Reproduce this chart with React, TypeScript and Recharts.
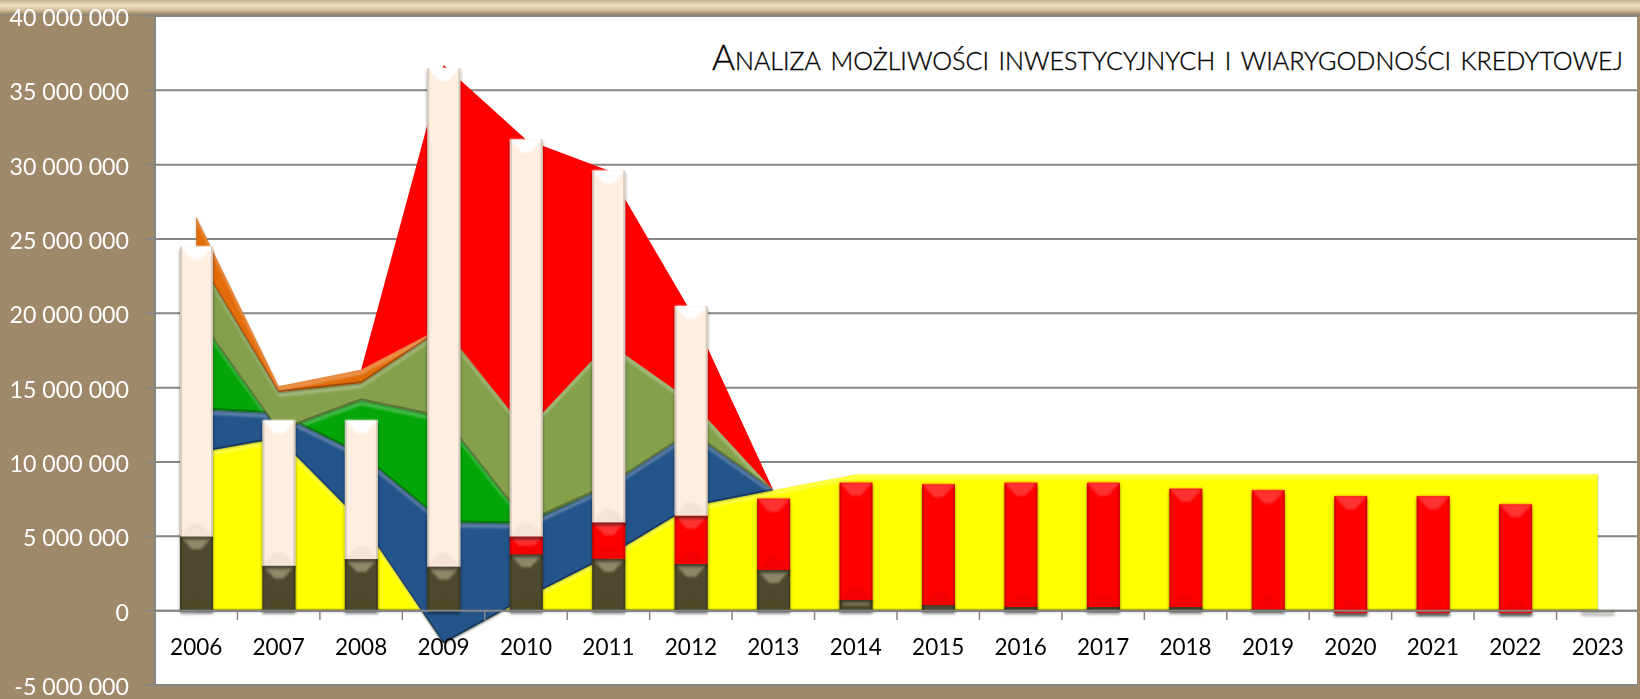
import React from "react";
import { ComposedChart, Area, Bar, XAxis, YAxis, CartesianGrid, ReferenceLine } from "recharts";

const years = ["2006","2007","2008","2009","2010","2011","2012","2013","2014","2015","2016","2017","2018","2019","2020","2021","2022","2023"];

// stacked areas (values, not running totals)
const yellowArea = [10600000,11600000,6000000,-2200000,850000,3660000,7000000,8100000,9160000,9160000,9160000,9160000,9160000,9160000,9160000,9160000,9160000,9160000];
const blueArea = [2970000,1650000,4500000,8150000,5000000,4740000,5000000,0,0,0,0,0,0,0,0,0,0,0];
const greenArea = [6330000,-1150000,3660000,7050000,100000,0,0,0,0,0,0,0,0,0,0,0,0,0];
const oliveArea = [4000000,2600000,1140000,6000000,6150000,9600000,2100000,0,0,0,0,0,0,0,0,0,0,0];
const orangeArea = [2600000,400000,900000,100000,0,0,0,0,0,0,0,0,0,0,0,0,0,0];
const redArea = [0,0,0,17600000,19600000,11600000,6000000,0,0,0,0,0,0,0,0,0,0,0];

// stacked columns
const redBelow = [0,0,0,0,0,0,0,0,0,0,0,0,0,0,-150000,-150000,-150000,0];
const darkBar = [5000000,3030000,3480000,2970000,3800000,3500000,3150000,2740000,720000,380000,250000,250000,250000,100000,0,0,0,-100000];
const redBar = [0,0,0,0,1200000,2450000,3250000,4790000,7880000,8120000,8350000,8350000,7950000,8000000,7850000,7850000,7300000,0];
const creamBar = [19500000,9770000,9320000,33530000,26700000,23650000,14100000,0,0,0,0,0,0,0,0,0,0,0];

const yTicks = [-5000000,0,5000000,10000000,15000000,20000000,25000000,30000000,35000000,40000000];

const chartData = years.map((year, i) => ({
  year,
  yellowArea: yellowArea[i],
  blueArea: blueArea[i],
  greenArea: greenArea[i],
  oliveArea: oliveArea[i],
  orangeArea: orangeArea[i],
  redArea: redArea[i],
  redBelow: redBelow[i],
  darkBar: darkBar[i],
  redBar: redBar[i],
  creamBar: creamBar[i],
}));

const GRID = "#868686";
const BROWN = "#a0886a";
const FONT = "Lato, 'Open Sans', sans-serif";
const ZERO_TO_BOTTOM = 75; // px between the zero line and the bottom of the plot
const BAND = 82.44;

function formatTick(v: number) {
  return String(v).replace(/\B(?=(\d{3})+(?!\d))/g, " ");
}

function BevelBar(props: any) {
  const { x, y, width, height, base, top, edge } = props;
  const h = Math.abs(height);
  if (!h || h < 0.5) return null;
  const y0 = height < 0 ? y + height : y;
  const d = Math.min(13, h / 2);
  const inset = Math.min(12, (d / 13) * 12);
  return (
    <g filter="url(#barShadow)">
      <rect x={x} y={y0} width={width} height={h} fill={base} />
      <g filter="url(#soft)">
        <polygon
          points={`${x},${y0} ${x + width},${y0} ${x + width - inset},${y0 + d} ${x + inset},${y0 + d}`}
          fill={top}
        />
        <polygon
          points={`${x},${y0 + h} ${x + width},${y0 + h} ${x + width - inset},${y0 + h - d} ${x + inset},${y0 + h - d}`}
          fill={edge}
          opacity={0.1}
        />
      </g>
      <rect x={x} y={y0} width={2} height={h} fill={edge} opacity={0.35} />
      <rect x={x + width - 2} y={y0} width={2} height={h} fill={edge} opacity={0.35} />
    </g>
  );
}

function YearTick(props: any) {
  const { x, payload } = props;
  const bottom = 685;
  const tickTop = bottom - ZERO_TO_BOTTOM;
  return (
    <g>
      <line x1={x + BAND / 2} x2={x + BAND / 2} y1={tickTop} y2={tickTop + 10} stroke={GRID} strokeWidth={1.5} />
      <text x={x} y={bottom - 30} textAnchor="middle" fontFamily={FONT} fontSize={22.5} fill="#000">
        {payload.value}
      </text>
    </g>
  );
}

function ValueTick(props: any) {
  const { y, payload } = props;
  return (
    <g>
      <line x1={146} x2={155} y1={y} y2={y} stroke={GRID} strokeWidth={2} />
      <text x={129} y={y + 10} textAnchor="end" fontFamily={FONT} fontSize={23.2} fill="#fff">
        {formatTick(payload.value)}
      </text>
    </g>
  );
}

function Defs() {
  return (
    <svg width={0} height={0} style={{ position: "absolute" }}>
      <defs>
        <filter id="areaBevel" x="-5%" y="-5%" width="110%" height="110%" colorInterpolationFilters="sRGB">
          <feOffset in="SourceAlpha" dy={5} result="down" />
          <feComposite in="SourceAlpha" in2="down" operator="out" result="topEdge" />
          <feGaussianBlur in="topEdge" stdDeviation={1} result="topBlur" />
          <feFlood floodColor="#fff" floodOpacity={0.26} />
          <feComposite in2="topBlur" operator="in" result="light" />
          <feComposite in="light" in2="SourceAlpha" operator="in" result="lightIn" />
          <feOffset in="SourceAlpha" dy={-2} result="up" />
          <feComposite in="SourceAlpha" in2="up" operator="out" result="lowEdge" />
          <feFlood floodColor="#000" floodOpacity={0.3} />
          <feComposite in2="lowEdge" operator="in" result="dark" />
          <feOffset in="SourceAlpha" dy={1} result="sh" />
          <feGaussianBlur in="sh" stdDeviation={1} result="shBlur" />
          <feFlood floodColor="#000" floodOpacity={0.3} />
          <feComposite in2="shBlur" operator="in" result="shadow" />
          <feMerge>
            <feMergeNode in="shadow" />
            <feMergeNode in="SourceGraphic" />
            <feMergeNode in="lightIn" />
            <feMergeNode in="dark" />
          </feMerge>
        </filter>
        <filter id="barShadow" filterUnits="userSpaceOnUse" x={0} y={0} width={1640} height={699}>
          <feDropShadow dx={0} dy={3} stdDeviation={1.5} floodColor="#000" floodOpacity={0.5} />
        </filter>
        <filter id="soft" filterUnits="userSpaceOnUse" x={0} y={0} width={1640} height={699}>
          <feGaussianBlur stdDeviation={0.8} />
        </filter>
      </defs>
    </svg>
  );
}

export default function App() {
  return (
    <div style={{ position: "relative", width: 1640, height: 699, background: BROWN, overflow: "hidden" }}>
      <style>{`body{margin:0}.bevel .recharts-area-area{filter:url(#areaBevel)}`}</style>
      <Defs />
      <div
        style={{
          position: "absolute",
          left: 0,
          top: 0,
          width: 1640,
          height: 16,
          background: "linear-gradient(#c7b394 0%, #f0dcbe 35%, #d8c3a0 60%, #9a8768 90%, #868686 100%)",
        }}
      />
      <div style={{ position: "absolute", left: 0, top: 0 }}>
        <ComposedChart
          width={1640}
          height={699}
          data={chartData}
          margin={{ top: 16, right: 1, bottom: 0, left: 0 }}
          barSize={33}
          barGap={0}
        >
          <CartesianGrid horizontal vertical={false} stroke={GRID} strokeWidth={2} fill="#fff" fillOpacity={1} syncWithTicks />
          <XAxis dataKey="year" height={14} axisLine={false} tickLine={false} tickMargin={0} tick={<YearTick />} interval={0} />
          <YAxis
            width={155}
            domain={[-5000000, 40000000]}
            ticks={yTicks}
            interval={0}
            allowDataOverflow
            axisLine={{ stroke: GRID, strokeWidth: 2 }}
            tickLine={false}
            tick={<ValueTick />}
          />
          <Area className="bevel" type="linear" stackId="areas" dataKey="yellowArea" fill="#ffff00" fillOpacity={1} stroke="none" isAnimationActive={false} />
          <Area className="bevel" type="linear" stackId="areas" dataKey="blueArea" fill="#23548a" fillOpacity={1} stroke="none" isAnimationActive={false} />
          <Area className="bevel" type="linear" stackId="areas" dataKey="greenArea" fill="#03a508" fillOpacity={1} stroke="none" isAnimationActive={false} />
          <Area className="bevel" type="linear" stackId="areas" dataKey="oliveArea" fill="#84a04b" fillOpacity={1} stroke="none" isAnimationActive={false} />
          <Area className="bevel" type="linear" stackId="areas" dataKey="orangeArea" fill="#e36c0a" fillOpacity={1} stroke="none" isAnimationActive={false} />
          <Area type="linear" stackId="areas" dataKey="redArea" fill="#ff0000" fillOpacity={1} stroke="none" isAnimationActive={false} />
          <Bar stackId="bars" dataKey="redBelow" isAnimationActive={false} shape={<BevelBar base="#ff0000" top="#ff0000" edge="#8c1010" />} />
          <Bar stackId="bars" dataKey="darkBar" isAnimationActive={false} shape={<BevelBar base="#4e4a2d" top="#8c8868" edge="#2b2915" />} />
          <Bar stackId="bars" dataKey="redBar" isAnimationActive={false} shape={<BevelBar base="#ff0000" top="#ff3030" edge="#8c1010" />} />
          <Bar stackId="bars" dataKey="creamBar" isAnimationActive={false} shape={<BevelBar base="#feeee0" top="#ffffff" edge="#8f8478" />} />
          <ReferenceLine y={0} stroke={GRID} strokeWidth={2} />
          <text
            x={712}
            y={70}
            fontFamily={FONT}
            fontSize={35}
            fontWeight={300}
            fill="#000"
            stroke="#000"
            strokeWidth={0.35}
            textLength={911}
            lengthAdjust="spacingAndGlyphs"
            style={{ fontVariant: "small-caps" }}
          >
            Analiza możliwości inwestycyjnych i wiarygodności kredytowej
          </text>
        </ComposedChart>
      </div>
      <div style={{ position: "absolute", left: 1637, top: 16, width: 3, height: 683, background: BROWN }} />
    </div>
  );
}
